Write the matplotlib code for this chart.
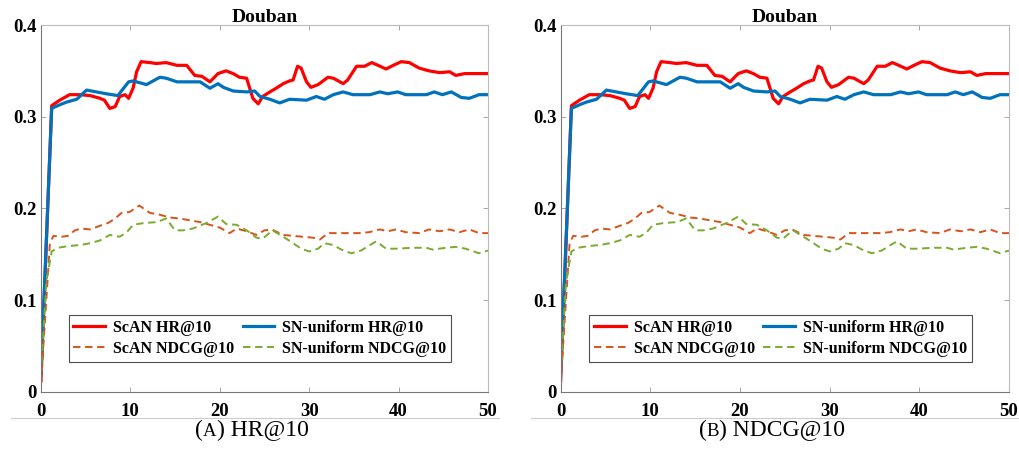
import matplotlib
matplotlib.use("Agg")
import matplotlib.pyplot as plt
from matplotlib.lines import Line2D

# values (epoch, metric)
scan_hr_x = [0, 1.2, 2.1, 3.2, 4.4, 5.5, 6.6, 7.1, 7.7, 8.3, 8.8, 9.4, 9.8, 10.3, 10.7, 11.2, 12.2,
             12.9, 14.0, 15.2, 16.3, 17.2, 18.0, 18.9, 19.8, 20.7, 21.5, 22.2, 23.0, 23.7, 24.3, 24.8,
             25.6, 26.3, 27.1, 27.8, 28.2, 28.7, 29.1, 29.7, 30.2, 31.0, 32.1, 32.7, 33.8, 34.3, 35.3,
             36.2, 37.0, 37.7, 38.6, 39.4, 40.3, 41.2, 42.3, 43.4, 44.6, 45.7, 46.4, 47.4, 50.0]
scan_hr = [0.012, 0.312, 0.318, 0.324, 0.324, 0.323, 0.320, 0.318, 0.309, 0.311, 0.322, 0.324, 0.320,
           0.331, 0.349, 0.360, 0.359, 0.358, 0.359, 0.356, 0.356, 0.345, 0.344, 0.338, 0.347, 0.350,
           0.347, 0.343, 0.342, 0.320, 0.314, 0.322, 0.327, 0.331, 0.336, 0.339, 0.340, 0.355, 0.353,
           0.338, 0.332, 0.335, 0.343, 0.342, 0.336, 0.340, 0.355, 0.355, 0.359, 0.356, 0.352, 0.356,
           0.360, 0.359, 0.353, 0.350, 0.348, 0.349, 0.345, 0.347, 0.347]

snu_hr_x = [0, 1.2, 2.1, 2.9, 4.0, 5.1, 6.2, 7.3, 8.6, 9.8, 10.3, 11.8, 13.3, 14.0, 15.2, 17.8, 18.9,
            19.8, 20.4, 21.5, 23.0, 23.9, 24.5, 25.6, 26.7, 27.8, 29.7, 30.8, 31.7, 32.7, 33.8, 34.9,
            36.8, 37.9, 38.8, 39.9, 40.8, 43.1, 44.0, 44.9, 45.9, 47.0, 47.9, 49.0, 50.0]
snu_hr = [0.02, 0.309, 0.313, 0.316, 0.319, 0.329, 0.327, 0.325, 0.323, 0.338, 0.339, 0.335, 0.343,
          0.342, 0.338, 0.338, 0.331, 0.336, 0.332, 0.328, 0.327, 0.328, 0.322, 0.319, 0.315, 0.319,
          0.318, 0.322, 0.319, 0.324, 0.327, 0.324, 0.324, 0.327, 0.325, 0.327, 0.324, 0.324, 0.327,
          0.324, 0.327, 0.321, 0.320, 0.324, 0.324]

scan_ndcg_x = [0, 1.0, 1.4, 2.3, 3.0, 3.8, 4.5, 5.5, 6.6, 7.5, 8.3, 9.0, 9.9, 11.0, 12.2, 13.3, 14.4,
               15.5, 16.6, 17.8, 18.9, 20.0, 21.1, 21.9, 23.0, 24.1, 25.0, 25.8, 27.1, 28.2, 29.3, 30.4,
               31.2, 32.1, 33.4, 35.6, 36.7, 37.9, 38.8, 39.7, 40.8, 42.3, 43.4, 44.6, 45.7, 46.8, 47.9,
               49.0, 50.0]
scan_ndcg = [0.009, 0.162, 0.170, 0.169, 0.170, 0.176, 0.178, 0.177, 0.181, 0.184, 0.189, 0.195, 0.196,
             0.203, 0.195, 0.193, 0.190, 0.189, 0.187, 0.185, 0.182, 0.179, 0.173, 0.178, 0.175, 0.171,
             0.176, 0.177, 0.171, 0.170, 0.169, 0.168, 0.166, 0.173, 0.173, 0.173, 0.174, 0.177, 0.175,
             0.177, 0.174, 0.173, 0.177, 0.175, 0.177, 0.174, 0.177, 0.173, 0.173]

snu_ndcg_x = [0, 0.6, 1.2, 1.9, 3.2, 4.4, 5.5, 6.6, 7.7, 8.8, 9.6, 10.3, 11.5, 13.0, 14.0, 15.0, 15.9,
              17.0, 18.5, 19.8, 20.7, 21.9, 23.0, 24.1, 24.8, 25.9, 27.1, 28.2, 29.1, 30.0, 31.0, 31.7,
              32.7, 33.6, 34.7, 35.8, 36.8, 37.5, 38.6, 39.7, 41.6, 43.1, 43.8, 45.3, 46.4, 47.5, 49.0,
              50.0]
snu_ndcg = [0.018, 0.12, 0.153, 0.157, 0.159, 0.160, 0.162, 0.165, 0.171, 0.169, 0.174, 0.182, 0.184,
            0.185, 0.189, 0.176, 0.176, 0.178, 0.184, 0.191, 0.183, 0.182, 0.176, 0.168, 0.167, 0.176,
            0.169, 0.162, 0.156, 0.153, 0.156, 0.162, 0.160, 0.155, 0.151, 0.154, 0.160, 0.164, 0.156,
            0.156, 0.157, 0.157, 0.155, 0.157, 0.158, 0.156, 0.151, 0.154]

yticks = [0, 0.1, 0.2, 0.3, 0.4]
ytick_labels = ["0", "0.1", "0.2", "0.3", "0.4"]
xticks = [0, 10, 20, 30, 40, 50]
caption_letters = ["A", "B"]
caption_rest = [" HR@10", " NDCG@10"]

plt.rcParams["font.family"] = ["Liberation Serif", "DejaVu Serif"]

fig = plt.figure(figsize=(10.19, 4.63), dpi=100)
ax_pos = [[0.0402, 0.154, 0.4387, 0.792], [0.5502, 0.154, 0.440, 0.792]]
renderer = fig.canvas.get_renderer()

for pos, letter, rest, cx in zip(ax_pos, caption_letters, caption_rest, [252, 772]):
    ax = fig.add_axes(pos)
    ax.plot(scan_hr_x, scan_hr, color="#FF0000", lw=2.3, label="ScAN HR@10")
    ax.plot(snu_hr_x, snu_hr, color="#0072BD", lw=2.3, label="SN-uniform HR@10")
    ax.plot(scan_ndcg_x, scan_ndcg, color="#D95319", lw=1.4, ls=(0, (3.8, 2.4)), label="ScAN NDCG@10")
    ax.plot(snu_ndcg_x, snu_ndcg, color="#77AC30", lw=1.4, ls=(0, (3.8, 2.4)), label="SN-uniform NDCG@10")
    ax.set_xlim(0, 50)
    ax.set_ylim(0, 0.4)
    ax.set_xticks(xticks)
    ax.set_yticks(yticks)
    ax.set_yticklabels(ytick_labels)
    ax.tick_params(direction="in", top=True, right=True, length=3.5, width=0.6,
                   color="#999999", labelsize=13.5, pad=3)
    ax.tick_params(axis="x", pad=8)
    for lab in ax.get_xticklabels() + ax.get_yticklabels():
        lab.set_fontweight("bold")
    for s in ax.spines.values():
        s.set_color("#777777")
        s.set_linewidth(0.8)
    ax.spines["top"].set_color("#bbbbbb")
    ax.spines["right"].set_color("#bbbbbb")
    ax.set_title("Douban", fontsize=14, fontweight="bold", pad=2)

    # legend: order row-wise as in the picture
    h, l = ax.get_legend_handles_labels()
    order = [0, 2, 1, 3]
    leg = ax.legend([h[i] for i in order], [l[i] for i in order], ncol=2,
                    loc="lower center", bbox_to_anchor=(0.49, 0.082),
                    prop={"weight": "bold", "size": 11.5}, frameon=True, fancybox=False,
                    handlelength=2.0, columnspacing=0.5, handletextpad=0.5,
                    labelspacing=0.3, borderpad=0.3, borderaxespad=0)
    leg.get_frame().set_edgecolor("#222222")
    leg.get_frame().set_linewidth(0.8)

    # caption with a small-caps letter
    parts = [("(", 17), (letter, 13.5), (")" + rest, 17)]
    texts = [fig.text(0, 0, s, fontsize=fs, ha="left", va="baseline") for s, fs in parts]
    widths = [t.get_window_extent(renderer).width for t in texts]
    x = cx - sum(widths) / 2
    for t, w in zip(texts, widths):
        t.set_position((x / 1019, 1 - 436.5 / 463))
        x += w

# thin rule under each panel
fig.add_artist(Line2D([11 / 1019, 499 / 1019], [1 - 418 / 463] * 2, color="#cccccc", lw=0.8))
fig.add_artist(Line2D([531 / 1019, 1.0], [1 - 418 / 463] * 2, color="#cccccc", lw=0.8))

fig.savefig("out.png", dpi=100)
